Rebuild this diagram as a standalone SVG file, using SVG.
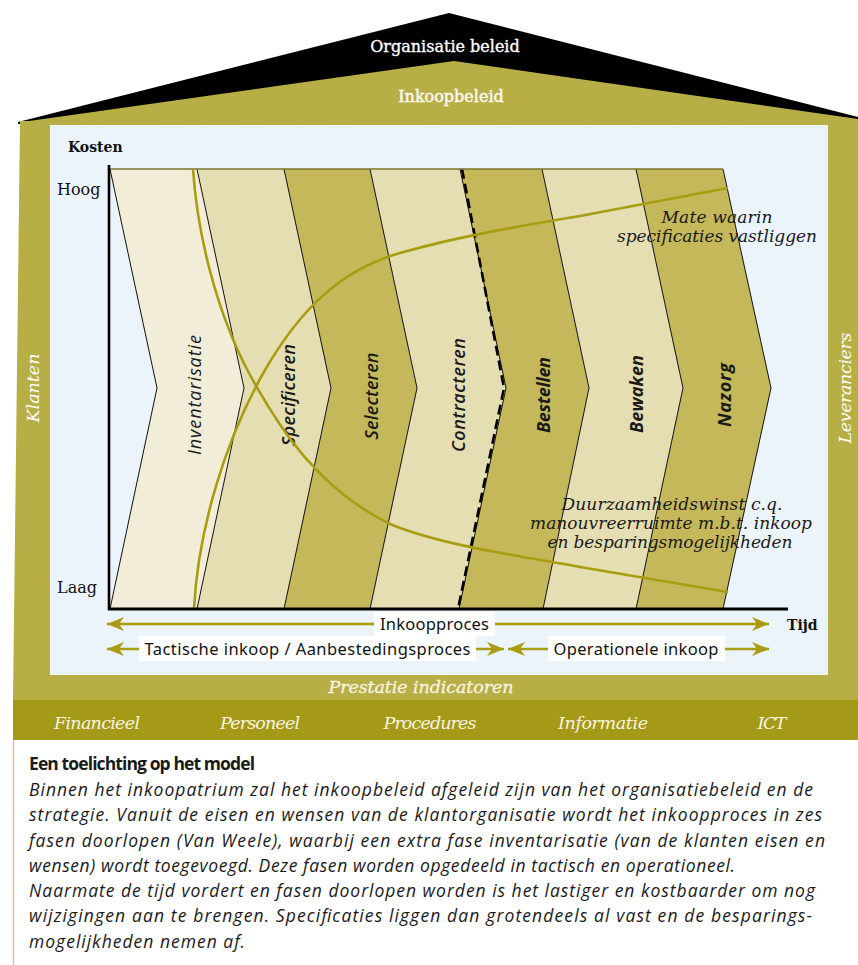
<svg xmlns="http://www.w3.org/2000/svg" width="858" height="965" viewBox="0 0 858 965">
<style>
.serif{font-family:"DejaVu Serif","Liberation Serif",serif}
.sans{font-family:"Noto Sans","Open Sans",sans-serif}
.isans{font-family:"Open Sans","Noto Sans",sans-serif;font-style:italic}
.iserif{font-family:"DejaVu Serif","Liberation Serif",serif;font-style:italic}
.wt{fill:#FFFFFF}
.bt{fill:#F7F4E2}
.bd{stroke:#111;stroke-width:1;fill:none}
.curve{fill:none;stroke:#A99C10;stroke-width:2.6}
.arr{stroke:#A99C10;stroke-width:2.6;fill:none;marker-start:url(#ah);marker-end:url(#ah)}
.box{fill:#FFFFFF}
.lab{font-size:18px;fill:#1A1A1A;text-anchor:middle}
.c1{fill:#F2EDD8}
.c2{fill:#E4DEB2}
.c3{fill:#C4B85A}
</style>
<defs>
<marker id="ah" viewBox="0 0 17 14" refX="17" refY="7" markerWidth="17" markerHeight="14" orient="auto-start-reverse" markerUnits="userSpaceOnUse">
<path d="M0,0 L17,7 L0,14 L5,7 Z" fill="#A99C10"/>
</marker>
</defs>

<!-- house -->
<g id="roof">
<polygon points="18,122 449,13 858,117 858,124 18,124" fill="#000"/>
<polygon points="22,122 454,61 858,119 858,124 22,124" fill="#B8AE46"/>
<text x="445" y="52" class="serif wt" font-size="16" text-anchor="middle" stroke="#fff" stroke-width="0.35">Organisatie beleid</text>
<text x="451" y="102" class="serif wt" font-size="16" text-anchor="middle" stroke="#fff" stroke-width="0.35">Inkoopbeleid</text>
</g>
<g id="body">
<polygon points="20,121 858,120 858,700 13,700" fill="#B8AE46"/>
<rect x="50" y="125" width="778" height="550" fill="#EBF3FB"/>
<rect x="13" y="700" width="845" height="40" fill="#A59A17"/>
<line x1="13.5" y1="740" x2="13.5" y2="965" stroke="#CFC98F" stroke-width="1.5"/>
</g>
<g id="klanten"><text transform="translate(33,388) rotate(-90)" x="0" y="6" class="iserif wt" font-size="17.5" text-anchor="middle" textLength="69">Klanten</text></g>
<g id="leveranciers"><text transform="translate(845,388) rotate(-90)" x="0" y="6" class="iserif wt" font-size="17.5" text-anchor="middle" textLength="111">Leveranciers</text></g>
<g id="prestatie"><text x="421" y="693" class="iserif bt" font-size="17.5" text-anchor="middle" textLength="185" stroke="#F7F4E2" stroke-width="0.3">Prestatie indicatoren</text></g>
<g id="indicatoren" class="iserif bt" font-size="17.5" text-anchor="middle">
<text x="97" y="729" textLength="86">Financieel</text>
<text x="260" y="729" textLength="80">Personeel</text>
<text x="430" y="729" textLength="93">Procedures</text>
<text x="603" y="729" textLength="90">Informatie</text>
<text x="772" y="729" textLength="29">ICT</text>
</g>

<!-- chevrons -->
<g id="inventarisatie">
<polygon class="c1" points="110,169 197,169 244,388 197,609 110,609 157,388"/>
<text class="isans lab" transform="translate(195,395) rotate(-90)" x="0" y="6" textLength="120">Inventarisatie</text>
</g>
<g id="specificeren">
<polygon class="c2" points="197,169 284,169 331,388 284,609 197,609 244,388"/>
<text class="isans lab" font-weight="600" transform="translate(289,395) rotate(-90)" x="0" y="6" textLength="102">Specificeren</text>
</g>
<g id="selecteren">
<polygon class="c3" points="284,169 370,169 417,388 370,609 284,609 331,388"/>
<text class="isans lab" font-weight="600" transform="translate(372,396) rotate(-90)" x="0" y="6" textLength="87">Selecteren</text>
</g>
<g id="contracteren">
<polygon class="c2" points="370,169 460,169 506,388 459,609 370,609 417,388"/>
<text class="isans lab" font-weight="600" transform="translate(459,395) rotate(-90)" x="0" y="6" textLength="114">Contracteren</text>
</g>
<g id="bestellen">
<polygon class="c3" points="460,169 542,169 589,388 543,609 459,609 506,388"/>
<text class="isans lab" font-weight="700" transform="translate(544,395) rotate(-90)" x="0" y="6" textLength="76">Bestellen</text>
</g>
<g id="bewaken">
<polygon class="c2" points="542,169 636,169 683,388 636,609 543,609 589,388"/>
<text class="isans lab" font-weight="700" transform="translate(637,394) rotate(-90)" x="0" y="6" textLength="78">Bewaken</text>
</g>
<g id="nazorg">
<polygon class="c3" points="636,169 723,169 771,388 723,609 636,609 683,388"/>
<text class="isans lab" font-weight="700" transform="translate(725,395) rotate(-90)" x="0" y="6" textLength="64">Nazorg</text>
</g>
<g id="chevron-lines">
<polyline class="bd" points="110,169 157,388 110,609"/>
<polyline class="bd" points="197,169 244,388 197,609"/>
<polyline class="bd" points="284,169 331,388 284,609"/>
<polyline class="bd" points="370,169 417,388 370,609"/>
<polyline class="bd" points="460,169 506,388 459,609"/>
<polyline class="bd" points="542,169 589,388 543,609"/>
<polyline class="bd" points="636,169 683,388 636,609"/>
<polyline class="bd" points="723,169 771,388 723,609"/>
<polyline points="462,169 504,388 458,609" fill="none" stroke="#000" stroke-width="2.6" stroke-dasharray="10,5"/>
<line x1="110" y1="169" x2="723" y2="169" stroke="#7D7630" stroke-width="1.5"/>
</g>

<!-- curves -->
<g id="curves">
<path class="curve" d="M193,169 C197,230 215,310 250,375 C280,430 320,490 390,524 C440,545 520,556 580,567 L728,592"/>
<path class="curve" d="M194,609 C198,530 225,440 265,370 C300,310 340,270 400,253 C460,236 520,226 580,216 L728,188"/>
</g>
<g id="curve-labels" class="iserif" font-size="17" fill="#1A1A1A" text-anchor="middle">
<text x="717" y="223" textLength="111">Mate waarin</text>
<text x="717" y="242" textLength="200">specificaties vastliggen</text>
<text x="672" y="510" textLength="221">Duurzaamheidswinst c.q.</text>
<text x="671" y="529" textLength="282">manouvreerruimte m.b.t. inkoop</text>
<text x="670" y="548" textLength="245">en besparingsmogelijkheden</text>
</g>

<!-- axes -->
<g id="axes">
<line x1="109" y1="165" x2="109" y2="610" stroke="#000" stroke-width="2.6"/>
<line x1="108" y1="609" x2="788" y2="609" stroke="#000" stroke-width="3"/>
<text x="68" y="152" class="serif" font-size="14" font-weight="bold" fill="#111">Kosten</text>
<text x="57" y="195" class="serif" font-size="16" fill="#111">Hoog</text>
<text x="57" y="593" class="serif" font-size="16" fill="#111">Laag</text>
<text x="787" y="630" class="serif" font-size="14" font-weight="bold" fill="#111">Tijd</text>
</g>

<!-- connectors -->
<g id="connectors">
<line class="arr" x1="107" y1="624" x2="769" y2="624"/>
<line class="arr" x1="107" y1="649" x2="504" y2="649"/>
<line class="arr" x1="508" y1="649" x2="769" y2="649"/>
</g>
<g id="process-labels" class="sans" font-size="16.5" fill="#111">
<rect class="box" x="374" y="612" width="121" height="24"/>
<text x="434.5" y="630" text-anchor="middle" textLength="109">Inkoopproces</text>
<rect class="box" x="139" y="636" width="337" height="25"/>
<text x="307.5" y="655" text-anchor="middle" textLength="326">Tactische inkoop / Aanbestedingsproces</text>
<rect class="box" x="548" y="636" width="177" height="25"/>
<text x="636" y="655" text-anchor="middle" textLength="165">Operationele inkoop</text>
</g>

<!-- explanation -->
<g id="toelichting" fill="#1A1A1A">
<text x="29" y="770" font-family="'Open Sans','Noto Sans',sans-serif" font-weight="bold" font-size="17.5" textLength="226">Een toelichting op het model</text>
<g class="isans" font-size="17.5">
<text x="29" y="796" textLength="784">Binnen het inkoopatrium zal het inkoopbeleid afgeleid zijn van het organisatiebeleid en de</text>
<text x="29" y="821" textLength="793">strategie. Vanuit de eisen en wensen van de klantorganisatie wordt het inkoopproces in zes</text>
<text x="29" y="847" textLength="796">fasen doorlopen (Van Weele), waarbij een extra fase inventarisatie (van de klanten eisen en</text>
<text x="29" y="872" textLength="706">wensen) wordt toegevoegd. Deze fasen worden opgedeeld in tactisch en operationeel.</text>
<text x="29" y="897" textLength="786">Naarmate de tijd vordert en fasen doorlopen worden is het lastiger en kostbaarder om nog</text>
<text x="29" y="922" textLength="783">wijzigingen aan te brengen. Specificaties liggen dan grotendeels al vast en de besparings-</text>
<text x="29" y="948" textLength="216">mogelijkheden nemen af.</text>
</g>
</g>
</svg>
